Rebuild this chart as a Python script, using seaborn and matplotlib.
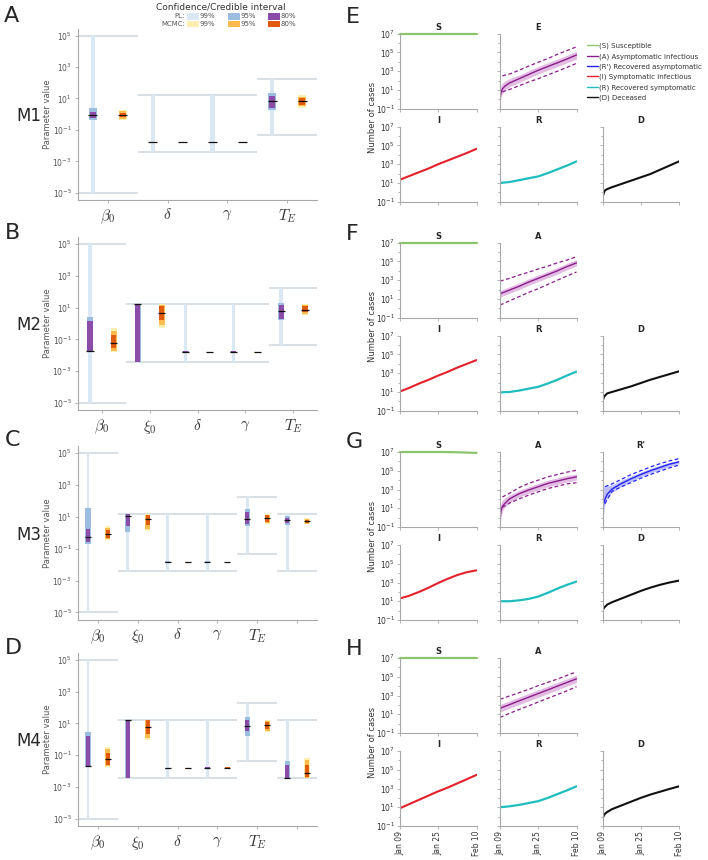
import numpy as np
import pandas as pd
import matplotlib
matplotlib.use('Agg')
import matplotlib.pyplot as plt
import matplotlib.dates as mdates
from matplotlib.patches import Rectangle
from matplotlib.lines import Line2D
from matplotlib.ticker import FixedLocator, NullFormatter
import seaborn as sns

W, H = 708, 860

sns.set_style('ticks')
plt.rcParams['font.family'] = ['DejaVu Sans']
plt.rcParams['mathtext.fontset'] = 'cm'
plt.rcParams['axes.unicode_minus'] = False

# ---------------- parameter estimates (left panels) ----------------
# each row: (estimate, lo80, hi80, lo95, hi95, lo99, hi99)
m1_names = [r'$\beta_0$', r'$\delta$', r'$\gamma$', r'$T_E$']
m1_lower = [1e-5, 0.004, 0.004, 0.045]
m1_upper = [1e5, 16, 16, 180]
m1_pl = [(0.87, 0.54, 1.4, 0.4, 2.5, 1e-5, 1e5),
         (0.016, 0.0145, 0.0175, 0.014, 0.018, 0.004, 16),
         (0.016, 0.0145, 0.0175, 0.014, 0.018, 0.004, 16),
         (7.0, 2.45, 13.5, 1.75, 24, 0.045, 180)]
m1_mc = [(0.87, 0.62, 1.2, 0.5, 1.6, 0.44, 1.9),
         (0.016, 0.0152, 0.0168, 0.015, 0.017, 0.0148, 0.0172),
         (0.016, 0.0152, 0.0168, 0.015, 0.017, 0.0148, 0.0172),
         (7.0, 4.0, 10, 3.2, 13, 2.6, 16)]

m2_names = [r'$\beta_0$', r'$\xi_0$', r'$\delta$', r'$\gamma$', r'$T_E$']
m2_lower = [1e-5, 0.004, 0.004, 0.004, 0.045]
m2_upper = [1e5, 16, 16, 16, 180]
m2_pl = [(0.02, 0.02, 1.5, 0.02, 2.7, 1e-5, 1e5),
         (16, 0.004, 16, 0.004, 16, 0.004, 16),
         (0.016, 0.0145, 0.0175, 0.014, 0.018, 0.004, 16),
         (0.016, 0.0145, 0.0175, 0.014, 0.018, 0.004, 16),
         (6.5, 2.0, 14, 1.7, 20, 0.045, 180)]
m2_mc = [(0.063, 0.03, 0.18, 0.02, 0.32, 0.017, 0.5),
         (4.9, 1.7, 13.5, 0.8, 15, 0.5, 16),
         (0.016, 0.0152, 0.0168, 0.015, 0.017, 0.0148, 0.0172),
         (0.016, 0.0152, 0.0168, 0.015, 0.017, 0.0148, 0.0172),
         (7.4, 5.0, 12.5, 4.0, 14, 3.5, 16)]

m3_names = [r'$\beta_0$', r'$\xi_0$', r'$\delta$', r'$\gamma$', r'$T_E$', '']
m3_lower = [1e-5, 0.004, 0.004, 0.004, 0.045, 0.004]
m3_upper = [1e5, 16, 16, 16, 180, 16]
m3_pl = [(0.55, 0.27, 1.85, 0.2, 34, 1e-5, 1e5),
         (11, 2.5, 16, 1.1, 16, 0.004, 16),
         (0.014, 0.0127, 0.0155, 0.0122, 0.016, 0.004, 16),
         (0.014, 0.0127, 0.0155, 0.0122, 0.016, 0.004, 16),
         (7.0, 3.6, 20, 2.5, 32, 0.045, 180),
         (6.2, 4.2, 9, 3.0, 12, 0.004, 16)]
m3_mc = [(0.81, 0.5, 1.5, 0.38, 2.1, 0.33, 2.5),
         (7.0, 3.0, 12.5, 1.8, 14, 1.25, 16),
         (0.014, 0.0133, 0.0148, 0.013, 0.0152, 0.0128, 0.0155),
         (0.014, 0.0133, 0.0148, 0.013, 0.0152, 0.0128, 0.0155),
         (8.0, 4.8, 12.5, 4.0, 14, 3.5, 16),
         (5.3, 4.2, 6.5, 3.8, 7.5, 3.5, 8)]

m4_names = [r'$\beta_0$', r'$\xi_0$', r'$\delta$', r'$\gamma$', r'$T_E$', '']
m4_lower = [1e-5, 0.004, 0.004, 0.004, 0.045, 0.004]
m4_upper = [1e5, 16, 16, 16, 180, 16]
m4_pl = [(0.02, 0.02, 1.7, 0.02, 2.7, 1e-5, 1e5),
         (16, 0.004, 16, 0.004, 16, 0.004, 16),
         (0.015, 0.0137, 0.0165, 0.013, 0.017, 0.004, 16),
         (0.016, 0.0145, 0.0175, 0.014, 0.018, 0.004, 16),
         (6.5, 3.2, 17, 1.7, 25, 0.045, 180),
         (0.004, 0.004, 0.025, 0.004, 0.045, 0.004, 16)]
m4_mc = [(0.056, 0.025, 0.145, 0.02, 0.25, 0.018, 0.35),
         (5.9, 2.3, 16, 1.26, 16, 0.9, 16),
         (0.015, 0.0142, 0.0158, 0.014, 0.016, 0.0138, 0.0162),
         (0.017, 0.0161, 0.0179, 0.0158, 0.0182, 0.0155, 0.0185),
         (7.4, 4.3, 12.5, 3.5, 15, 3.0, 16),
         (0.008, 0.0043, 0.025, 0.004, 0.05, 0.004, 0.063)]

model_labels = ['M1', 'M2', 'M3', 'M4']

# ---------------- trajectories (right panels), log10 of number of cases ----------------
days = [0, 4, 8, 12, 16, 20, 24, 28, 32]
days_fine = [0, 0.5, 1, 2, 4, 8, 12, 16, 20, 24, 28, 32]
days_dash = [1, 4, 8, 12, 16, 20, 24, 28, 32]

# M1
s_m1 = [7.0, 7.0, 7.0, 7.0, 7.0, 7.0, 7.0, 7.0, 7.0]
e_m1 = [0.2, 0.8, 1.1, 1.4, 1.75, 2.2, 2.65, 3.1, 3.5, 3.9, 4.3, 4.73]
e_m1_lo = [-0.3, 0.3, 0.6, 0.95, 1.35, 1.8, 2.25, 2.7, 3.1, 3.5, 3.9, 4.3]
e_m1_hi = [1.2, 1.5, 1.75, 1.95, 2.2, 2.6, 3.05, 3.5, 3.9, 4.3, 4.7, 5.15]
e_m1_dlo = [0.8, 1.05, 1.45, 1.85, 2.2, 2.6, 3.0, 3.4, 3.84]
e_m1_dhi = [2.5, 2.7, 3.1, 3.55, 3.95, 4.35, 4.8, 5.2, 5.6]
i_m1 = [1.35, 1.75, 2.15, 2.55, 3.0, 3.4, 3.8, 4.2, 4.64]
r_m1 = [1.0, 1.1, 1.3, 1.5, 1.7, 2.05, 2.45, 2.85, 3.3]
d_m1 = [-0.6, -0.1, 0.2, 0.35, 0.55, 0.9, 1.25, 1.6, 1.95, 2.4, 2.85, 3.3]

# M2
s_m2 = [7.0, 7.0, 7.0, 7.0, 7.0, 7.0, 7.0, 7.0, 7.0]
a_m2 = [1.55, 1.95, 2.35, 2.8, 3.2, 3.6, 4.0, 4.45, 4.85]
a_m2_lo = [1.2, 1.6, 2.0, 2.45, 2.85, 3.25, 3.65, 4.1, 4.5]
a_m2_hi = [1.9, 2.3, 2.7, 3.15, 3.55, 3.95, 4.35, 4.8, 5.2]
a_m2_dlo = [0.35, 0.8, 1.25, 1.7, 2.1, 2.55, 3.0, 3.45, 3.87]
a_m2_dhi = [2.9, 3.2, 3.55, 3.85, 4.2, 4.5, 4.85, 5.15, 5.5]
i_m2 = [1.05, 1.45, 1.9, 2.3, 2.75, 3.15, 3.6, 4.0, 4.4]
r_m2 = [0.95, 1.0, 1.15, 1.35, 1.55, 1.9, 2.3, 2.75, 3.17]
d_m2 = [0.0, 0.4, 0.6, 0.85, 1.0, 1.3, 1.6, 1.95, 2.3, 2.6, 2.9, 3.2]

# M3
s_m3 = [7.0, 7.0, 7.0, 7.0, 7.0, 6.99, 6.97, 6.94, 6.9]
a_m3 = [-0.1, 0.8, 1.2, 1.5, 2.0, 2.55, 2.95, 3.3, 3.65, 3.9, 4.15, 4.35]
a_m3_lo = [-1.0, 0.2, 0.7, 1.1, 1.6, 2.2, 2.6, 2.95, 3.3, 3.55, 3.8, 4.0]
a_m3_hi = [1.2, 1.6, 1.85, 2.1, 2.4, 2.9, 3.3, 3.65, 4.0, 4.25, 4.5, 4.65]
a_m3_dlo = [1.1, 1.55, 2.0, 2.4, 2.75, 3.1, 3.35, 3.6, 3.73]
a_m3_dhi = [2.2, 2.6, 3.2, 3.65, 4.0, 4.35, 4.6, 4.85, 5.05]
rp_m3 = [0.9, 1.5, 1.95, 2.5, 3.05, 3.65, 4.15, 4.6, 5.0, 5.35, 5.7, 5.95]
rp_m3_lo = [-1.0, 0.5, 1.4, 2.1, 2.7, 3.35, 3.85, 4.35, 4.75, 5.1, 5.45, 5.75]
rp_m3_hi = [3.2, 3.25, 3.3, 3.4, 3.5, 4.0, 4.45, 4.85, 5.25, 5.6, 5.9, 6.1]
rp_m3_dlo = [1.5, 2.8, 3.3, 3.75, 4.2, 4.6, 4.95, 5.3, 5.6]
rp_m3_dhi = [3.3, 3.6, 4.1, 4.6, 5.0, 5.4, 5.75, 6.05, 6.3]
i_m3 = [1.3, 1.6, 2.0, 2.45, 2.95, 3.4, 3.8, 4.1, 4.3]
r_m3 = [1.0, 1.0, 1.1, 1.25, 1.5, 1.9, 2.35, 2.75, 3.1]
d_m3 = [0.0, 0.25, 0.4, 0.65, 0.9, 1.3, 1.7, 2.1, 2.45, 2.75, 3.0, 3.2]

# M4
s_m4 = [7.0, 7.0, 7.0, 7.0, 7.0, 7.0, 7.0, 7.0, 7.0]
a_m4 = [1.64, 2.03, 2.43, 2.82, 3.21, 3.6, 4.0, 4.39, 4.78]
a_m4_lo = [1.24, 1.63, 2.03, 2.42, 2.81, 3.2, 3.6, 3.99, 4.38]
a_m4_hi = [2.04, 2.43, 2.83, 3.22, 3.61, 4.0, 4.4, 4.79, 5.18]
a_m4_dlo = [0.66, 1.1, 1.5, 1.9, 2.3, 2.7, 3.1, 3.5, 3.94]
a_m4_dhi = [2.6, 2.95, 3.3, 3.65, 4.05, 4.4, 4.75, 5.15, 5.52]
i_m4 = [0.9, 1.35, 1.8, 2.25, 2.7, 3.1, 3.55, 4.0, 4.45]
r_m4 = [1.0, 1.1, 1.25, 1.45, 1.65, 2.0, 2.4, 2.8, 3.23]
d_m4 = [-0.3, 0.1, 0.3, 0.5, 0.8, 1.2, 1.6, 2.0, 2.35, 2.65, 2.95, 3.23]

# colours
pl_cols = ['#dae8f4', '#9dbde0', '#8a4ca6']
mc_cols = ['#fdefb2', '#fdbb4e', '#e05b0e']
bound_col = '#d6dde3'
c_s, c_a, c_rp, c_i, c_r, c_d = '#8cc46c', '#8b1c8b', '#2323ff', '#e4202a', '#1fbdbd', '#111111'
band_a, band_rp = '#d9a6d9', '#aaaaff'
axis_col = '#a8a8a8'
txt_col = '#555555'


def px_box(x0, y0, x1, y1):
    return [x0 / W, 1 - y1 / H, (x1 - x0) / W, (y1 - y0) / H]


fig = plt.figure(figsize=(W / 100, H / 100), dpi=100)

# ---------------- left panels ----------------
left_rows = [(28.6, 199.8), (236.8, 410.2), (446.1, 619.5), (652.5, 826.2)]
left_models = [(m1_names, m1_lower, m1_upper, m1_pl, m1_mc),
               (m2_names, m2_lower, m2_upper, m2_pl, m2_mc),
               (m3_names, m3_lower, m3_upper, m3_pl, m3_mc),
               (m4_names, m4_lower, m4_upper, m4_pl, m4_mc)]

for k, (top, bot) in enumerate(left_rows):
    names, lower, upper, pl, mc = left_models[k]
    ax = fig.add_axes(px_box(78, top, 317, bot))
    ax.set_yscale('log')
    n = len(names)
    for i in range(n):
        ax.hlines([lower[i], upper[i]], i - 0.5, i + 0.5, color=bound_col, lw=1.3, zorder=1)
        for xc, row, cols, widths in [(i - 0.25, pl[i], pl_cols, [0.07, 0.13, 0.11]),
                                      (i + 0.25, mc[i], mc_cols, [0.13, 0.12, 0.11])]:
            est, lo80, hi80, lo95, hi95, lo99, hi99 = row
            for (lo, hi), c, w in zip([(lo99, hi99), (lo95, hi95), (lo80, hi80)], cols, widths):
                ax.bar(xc, hi - lo, bottom=lo, width=w, color=c, lw=0, zorder=2)
            ax.hlines(est, xc - 0.075, xc + 0.075, color='#111111', lw=0.9, zorder=5)
    ax.set_xlim(-0.5, n - 0.5)
    ax.set_ylim(10 ** -5.45, 10 ** 5.45)
    ax.set_xticks(range(n))
    ax.set_xticklabels(names, fontsize=11)
    ax.set_yticks([1e-5, 1e-3, 1e-1, 1e1, 1e3, 1e5])
    ax.yaxis.set_minor_locator(FixedLocator([]))
    ax.tick_params(axis='y', labelsize=5.5, colors=axis_col, labelcolor=txt_col, length=2.5,
                   width=0.6, pad=2)
    ax.tick_params(axis='x', colors=axis_col, labelcolor='#333333', length=2.5, width=0.6, pad=3)
    sns.despine(ax=ax)
    for sp in ['left', 'bottom']:
        ax.spines[sp].set_color(axis_col)
        ax.spines[sp].set_linewidth(0.8)
    fig.text(48 / W, 1 - (top + bot) / 2 / H, 'Parameter value', rotation=90,
             ha='center', va='center', fontsize=6, color=txt_col)
    fig.text(16 / W, 1 - ((top + bot) / 2 + 2) / H, model_labels[k], ha='left', va='center',
             fontsize=12)

for letter, (x, y) in zip('ABCD', [(4, 6), (5, 223), (5, 430), (5, 638)]):
    fig.text(x / W, 1 - y / H, letter, ha='left', va='top', fontsize=16)
for letter, (x, y) in zip('EFGH', [(346, 7), (346, 224), (346, 432), (346, 639)]):
    fig.text(x / W, 1 - y / H, letter, ha='left', va='top', fontsize=16)

# legend of the left panels
fig.text(156 / W, 1 - 3 / H, 'Confidence/Credible interval', ha='left', va='top', fontsize=6.5,
         color='#333333')
for row_label, yc, cols in [('PL:', 16.5, pl_cols), ('MCMC:', 24, mc_cols)]:
    fig.text(185 / W, 1 - yc / H, row_label, ha='right', va='center', fontsize=5, color=txt_col)
    for j, (pct, x0) in enumerate(zip(['99%', '95%', '80%'], [187, 228, 268])):
        fig.add_artist(Rectangle((x0 / W, 1 - (yc + 3) / H), 12 / W, 6 / H,
                                 transform=fig.transFigure, color=cols[j], lw=0))
        fig.text((x0 + 12.5) / W, 1 - yc / H, pct, ha='left', va='center', fontsize=5,
                 color=txt_col)

# ---------------- right panels ----------------
t0 = pd.Timestamp('2020-01-09')
t1 = pd.Timestamp('2020-02-10')
tick_dates = [t0, pd.Timestamp('2020-01-25'), t1]


def to_dates(d):
    return t0 + pd.to_timedelta(np.array(d, dtype=float), unit='D')


def ts_axes(x0, top, bot, title, ylabels, xlabels):
    ax = fig.add_axes(px_box(x0, top, x0 + 76.5, bot))
    ax.set_yscale('log')
    ax.set_ylim(1e-1, 1e7)
    ax.set_xlim(t0, t1)
    ax.set_yticks([1e-1, 1e1, 1e3, 1e5, 1e7])
    ax.yaxis.set_minor_locator(FixedLocator([1, 1e2, 1e4, 1e6]))
    ax.yaxis.set_minor_formatter(NullFormatter())
    ax.set_xticks(tick_dates)
    ax.xaxis.set_major_formatter(mdates.DateFormatter('%b %d'))
    ax.tick_params(axis='both', which='both', colors=axis_col, labelcolor='#333333',
                   labelsize=5.5, length=2, width=0.6, pad=1.5)
    ax.tick_params(axis='y', which='minor', length=1.5)
    ax.tick_params(axis='x', labelrotation=90)
    if not ylabels:
        ax.set_yticklabels([])
    if not xlabels:
        ax.set_xticklabels([])
    sns.despine(ax=ax)
    for sp in ['left', 'bottom']:
        ax.spines[sp].set_color(axis_col)
        ax.spines[sp].set_linewidth(0.8)
    ax.set_title(title, fontsize=6, fontweight='bold', pad=3)
    return ax


def line(ax, d, vals, color, lw=1.2, **kw):
    sns.lineplot(x=to_dates(d), y=10 ** np.array(vals), ax=ax, color=color, lw=lw, **kw)
    ax.set_xlabel('')
    ax.set_ylabel('')


def band(ax, d, center, lo, hi, dd, dlo, dhi, color, fill):
    ax.fill_between(to_dates(d), 10 ** np.array(lo), 10 ** np.array(hi), color=fill,
                    alpha=0.75, lw=0)
    line(ax, d, center, color, lw=1.0)
    line(ax, dd, dlo, color, lw=0.9, linestyle=(0, (3, 2)))
    line(ax, dd, dhi, color, lw=0.9, linestyle=(0, (3, 2)))


col_x = [400, 500, 602.5]
group_bottoms = [201.7, 410.7, 620, 826]
groups = [
    ('E', s_m1, (days_fine, e_m1, e_m1_lo, e_m1_hi, days_dash, e_m1_dlo, e_m1_dhi), None,
     i_m1, r_m1, d_m1),
    ('A', s_m2, (days, a_m2, a_m2_lo, a_m2_hi, days, a_m2_dlo, a_m2_dhi), None,
     i_m2, r_m2, d_m2),
    ('A', s_m3, (days_fine, a_m3, a_m3_lo, a_m3_hi, days_dash, a_m3_dlo, a_m3_dhi),
     (days_fine, rp_m3, rp_m3_lo, rp_m3_hi, days_dash, rp_m3_dlo, rp_m3_dhi),
     i_m3, r_m3, d_m3),
    ('A', s_m4, (days, a_m4, a_m4_lo, a_m4_hi, days, a_m4_dlo, a_m4_dhi), None,
     i_m4, r_m4, d_m4),
]

for g, (bot, (a_title, s_v, a_data, rp_data, i_v, r_v, d_v)) in enumerate(zip(group_bottoms, groups)):
    last = g == 3
    top_row = (bot - 168, bot - 93)
    bot_row = (bot - 75, bot)

    ax = ts_axes(col_x[0], *top_row, 'S', True, False)
    line(ax, days, s_v, c_s, lw=1.6, clip_on=False)

    ax = ts_axes(col_x[1], *top_row, a_title, False, False)
    dd, cv, lo, hi, ddash, dlo, dhi = a_data
    band(ax, dd, cv, lo, hi, ddash, dlo, dhi, c_a, band_a)

    if rp_data is not None:
        ax = ts_axes(col_x[2], *top_row, "R'", False, False)
        dd, cv, lo, hi, ddash, dlo, dhi = rp_data
        band(ax, dd, cv, lo, hi, ddash, dlo, dhi, c_rp, band_rp)

    ax = ts_axes(col_x[0], *bot_row, 'I', True, last)
    line(ax, days, i_v, c_i, lw=1.5)
    ax = ts_axes(col_x[1], *bot_row, 'R', False, last)
    line(ax, days, r_v, c_r, lw=1.6)
    ax = ts_axes(col_x[2], *bot_row, 'D', False, last)
    line(ax, days_fine, d_v, c_d, lw=1.5)

    fig.text(372 / W, 1 - (bot - 84) / H, 'Number of cases', rotation=90, ha='center',
             va='center', fontsize=6, color='#333333')

handles = [Line2D([], [], color=c, lw=1) for c in [c_s, c_a, c_rp, c_i, c_r, c_d]]
labels = ['(S) Susceptible', '(A) Asymptomatic infectious', "(R') Recovered asymptomatic",
          '(I) Symptomatic infectious', '(R) Recovered symptomatic', '(D) Deceased']
fig.legend(handles, labels, loc='upper left', bbox_to_anchor=(584 / W, 1 - 40 / H),
           frameon=False, fontsize=5, handlelength=1.6, handletextpad=0.2,
           labelspacing=0.55, borderaxespad=0, labelcolor='#333333')

fig.savefig('out.png', dpi=100)
